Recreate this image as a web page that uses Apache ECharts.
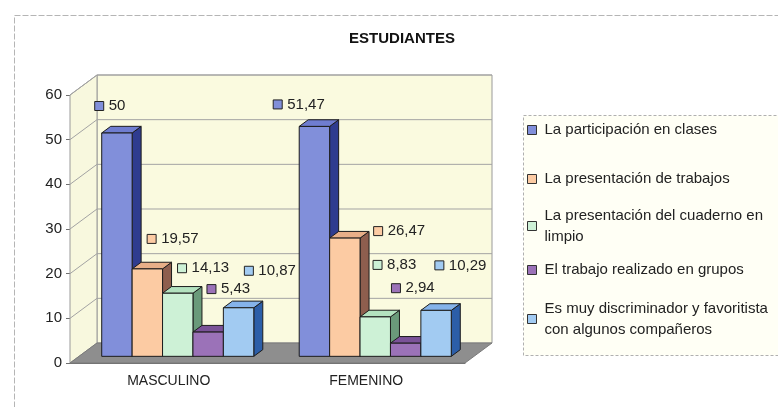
<!DOCTYPE html>
<html>
<head>
<meta charset="utf-8">
<script src="https://cdn.jsdelivr.net/npm/echarts@6/dist/echarts.min.js"></script>
<style>
  html, body { margin: 0; padding: 0; background: #ffffff; }
  #chart { width: 778px; height: 407px; }
</style>
</head>
<body>
<div id="chart"></div>
<script>
// Categories and survey results (percentages)
const categories = ['MASCULINO', 'FEMENINO'];
const seriesNames = [
  'La participación en clases',
  'La presentación de trabajos',
  'La presentación del cuaderno en limpio',
  'El trabajo realizado en grupos',
  'Es muy discriminador y favoritista con algunos compañeros'
];
const participacion = [50, 51.47];
const trabajos = [19.57, 26.47];
const cuaderno = [14.13, 8.83];
const grupos = [5.43, 2.94];
const discriminador = [10.87, 10.29];
const yMin = 0;
const yMax = 60;
const yStep = 10;

const values = [participacion, trabajos, cuaderno, grupos, discriminador];

// Wrapped legend text
const legendText = {
  'La presentación del cuaderno en limpio': 'La presentación del cuaderno en\nlimpio',
  'Es muy discriminador y favoritista con algunos compañeros': 'Es muy discriminador y favoritista\ncon algunos compañeros'
};

// Face colours of each 3D column: front, top, side
const palette = [
  { front: '#818FDA', top: '#6F7DD0', side: '#2F3C8F' },
  { front: '#FCCBA3', top: '#E8AF88', side: '#8E5E4E' },
  { front: '#CDF1D6', top: '#B3E2BF', side: '#6A9A7A' },
  { front: '#9B72B8', top: '#7A5298', side: '#5A3A72' },
  { front: '#A2CBF2', top: '#85B3EA', side: '#2C5EA8' }
];

// Label nudges (px) from each column's front top-left corner: [dx, dy] per category
const labelNudge = [
  [[-7, -27], [-26, -22]],
  [[15, -30], [44, -7]],
  [[15, -25], [13, -52]],
  [[14, -43], [1, -55]],
  [[21, -37], [14, -45]]
];

const FONT = 'Liberation Sans, Arial, sans-serif';
const DEPTH = { x: 27, y: -20 };   // receding vector of the plot box
const BAR_FRAC = 0.154;            // column width as a share of the category band
const fmt = v => String(v).replace('.', ',');

// Walls, floor and back-wall gridlines
function renderFrame(params, api) {
  const cs = params.coordSys;
  const x0 = cs.x, x1 = cs.x + cs.width;
  const yTop = api.coord([0, yMax])[1];
  const yBot = api.coord([0, yMin])[1];
  const dx = DEPTH.x, dy = DEPTH.y;
  const children = [];
  children.push({
    type: 'polygon',
    shape: { points: [[x0 + dx, yTop + dy], [x1 + dx, yTop + dy], [x1 + dx, yBot + dy], [x0 + dx, yBot + dy]] },
    style: { fill: '#FAFADF', stroke: '#9a9a9a', lineWidth: 1 }
  });
  children.push({
    type: 'polygon',
    shape: { points: [[x0, yTop], [x0 + dx, yTop + dy], [x0 + dx, yBot + dy], [x0, yBot]] },
    style: { fill: '#F8F8DE', stroke: '#9a9a9a', lineWidth: 1 }
  });
  for (let t = yMin + yStep; t <= yMax; t += yStep) {
    const y = api.coord([0, t])[1];
    children.push({
      type: 'line',
      shape: { x1: x0 + dx, y1: y + dy, x2: x1 + dx, y2: y + dy },
      style: { stroke: '#a3a3a3', lineWidth: 1 }
    });
    children.push({
      type: 'line',
      shape: { x1: x0, y1: y, x2: x0 + dx, y2: y + dy },
      style: { stroke: '#a3a3a3', lineWidth: 1 }
    });
  }
  children.push({
    type: 'polygon',
    shape: { points: [[x0, yBot], [x1, yBot], [x1 + dx, yBot + dy], [x0 + dx, yBot + dy]] },
    style: { fill: '#8E8E8E', stroke: '#7a7a7a', lineWidth: 1 }
  });
  return { type: 'group', children };
}

// One 3D column with its value label
function columnRenderer(si) {
  return function (params, api) {
    const cat = api.value(0);
    const v = api.value(1);
    const base = api.coord([cat, 0]);
    const band = api.size([1, 0])[0];
    const w = band * BAR_FRAC;
    const ox = DEPTH.x / 3, oy = DEPTH.y / 3;
    const x0 = base[0] - w * 2.5 + si * w + ox;
    const x1 = x0 + w;
    const yb = base[1] + oy;
    const yt = api.coord([cat, v])[1] + oy;
    const c = palette[si];
    const edge = { stroke: '#1c1c1c', lineWidth: 1 };
    const nd = labelNudge[si][cat];
    const lx = x0 + nd[0], ly = yt + nd[1];
    return {
      type: 'group',
      children: [
        { type: 'polygon', shape: { points: [[x1, yt], [x1 + ox, yt + oy], [x1 + ox, yb + oy], [x1, yb]] },
          style: Object.assign({ fill: c.side }, edge) },
        { type: 'polygon', shape: { points: [[x0, yt], [x1, yt], [x1 + ox, yt + oy], [x0 + ox, yt + oy]] },
          style: Object.assign({ fill: c.top }, edge) },
        { type: 'rect', shape: { x: x0, y: yt, width: w, height: yb - yt },
          style: Object.assign({ fill: c.front }, edge) },
        { type: 'rect', z2: 10, shape: { x: lx, y: ly - 4.5, width: 9, height: 9 },
          style: { fill: c.front, stroke: '#222', lineWidth: 1 } },
        { type: 'text', z2: 10,
          style: { text: fmt(v), x: lx + 14, y: ly, align: 'left', verticalAlign: 'middle',
                   fill: '#222', fontSize: 15, fontFamily: FONT } }
      ]
    };
  };
}

const legendCenters = [130, 179, 226, 270, 319];

const chart = echarts.init(document.getElementById('chart'), null, { renderer: 'canvas' });
chart.setOption({
  animation: false,
  backgroundColor: '#ffffff',
  title: {
    text: 'ESTUDIANTES',
    left: 397,
    textAlign: 'center',
    top: 26,
    textStyle: { fontSize: 15, fontWeight: 'bold', color: '#111', fontFamily: FONT }
  },
  graphic: [
    { type: 'rect', left: 12, top: 13, z: -10, silent: true,
      shape: { width: 800, height: 420 },
      style: { fill: 'none', stroke: '#b5b5b5', lineWidth: 1, lineDash: [6, 2] } },
    { type: 'rect', left: 523, top: 115, z: -5, silent: true,
      shape: { width: 280, height: 240 },
      style: { fill: '#FFFFF5', stroke: '#b0b0b0', lineWidth: 1, lineDash: [3, 2] } }
  ],
  legend: seriesNames.map((name, i) => {
    const twoLines = !!legendText[name];
    return {
      data: [name],
      left: 527,
      top: twoLines ? legendCenters[i] - 31.5 : legendCenters[i] - 10.5,
      padding: 0,
      icon: 'rect',
      itemWidth: 9,
      itemHeight: 9,
      selectedMode: false,
      itemStyle: { borderColor: '#333', borderWidth: 1 },
      formatter: n => legendText[n] || n,
      textStyle: {
        fontSize: 15, color: '#222', fontFamily: FONT, lineHeight: 21,
        padding: twoLines ? [21, 0, 0, 3] : [0, 0, 0, 3]
      }
    };
  }),
  grid: { left: 70, top: 95, right: 313, bottom: 44 },
  xAxis: {
    type: 'category',
    data: categories,
    axisLine: { lineStyle: { color: '#6e6e6e' } },
    axisTick: { length: 4, lineStyle: { color: '#6e6e6e' } },
    axisLabel: { fontSize: 14, color: '#222', fontFamily: FONT, margin: 11 },
    splitLine: { show: false }
  },
  yAxis: {
    type: 'value',
    min: yMin,
    max: yMax,
    interval: yStep,
    axisLine: { show: true, lineStyle: { color: '#6e6e6e' } },
    axisTick: { show: true, length: 4, lineStyle: { color: '#6e6e6e' } },
    axisLabel: { fontSize: 15, color: '#222', fontFamily: FONT, margin: 8 },
    splitLine: { show: false }
  },
  series: [
    { type: 'custom', name: 'frame', silent: true, z: 1,
      renderItem: renderFrame, data: [[0, 0]] }
  ].concat(seriesNames.map((name, i) => ({
    type: 'custom',
    name: name,
    z: 2,
    color: palette[i].front,
    itemStyle: { color: palette[i].front },
    renderItem: columnRenderer(i),
    encode: { x: 0, y: 1 },
    data: values[i].map((v, c) => [c, v])
  })))
});
</script>
</body>
</html>
